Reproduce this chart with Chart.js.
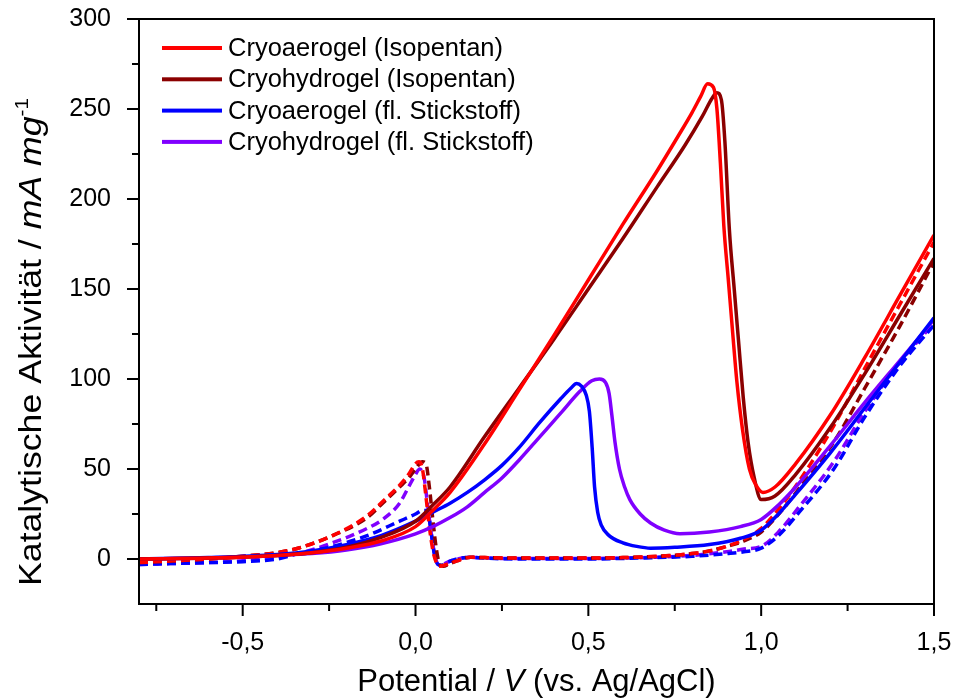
<!DOCTYPE html>
<html>
<head>
<meta charset="utf-8">
<script src="https://cdn.jsdelivr.net/npm/chart.js@4.4.1/dist/chart.umd.min.js"></script>
<style>
  html, body { margin: 0; padding: 0; background: #fff; }
  #wrap { width: 955px; height: 699px; }
</style>
</head>
<body>
<div id="wrap"><canvas id="cv" width="955" height="699"></canvas></div>
<script>
// ---- data ----
const SERIES_LABELS = ['Cryoaerogel (Isopentan)', 'Cryohydrogel (Isopentan)', 'Cryoaerogel (fl. Stickstoff)', 'Cryohydrogel (fl. Stickstoff)'];

// forward scans (solid)
const aeroIsoFwdX = [-0.8, -0.6, -0.4, -0.3, -0.2, -0.1, 0.0, 0.05, 0.1, 0.2, 0.3, 0.4, 0.5, 0.6, 0.7, 0.76, 0.8, 0.825, 0.845, 0.862, 0.872, 0.882, 0.892, 0.905, 0.917, 0.93, 0.946, 0.966, 0.985, 1.005, 1.04, 1.1, 1.2, 1.3, 1.4, 1.5];
const aeroIsoFwdY = [0, 0.5, 2, 3.5, 6, 10, 18, 27, 37, 64, 94, 124, 155, 186, 216, 235, 248, 257, 264, 262, 250, 220, 185, 155, 127, 98, 72, 50, 41, 37, 40, 53, 80, 112, 146, 180];

const hydroIsoFwdX = [-0.8, -0.6, -0.4, -0.3, -0.2, -0.1, 0.0, 0.05, 0.1, 0.2, 0.3, 0.4, 0.5, 0.6, 0.7, 0.78, 0.83, 0.858, 0.872, 0.885, 0.895, 0.908, 0.922, 0.935, 0.948, 0.962, 0.98, 1.0, 1.04, 1.1, 1.2, 1.3, 1.4, 1.5];
const hydroIsoFwdY = [0, 0.5, 2, 3.5, 6.5, 12, 21, 30, 40, 68, 95, 122, 150, 178, 207, 230, 246, 256, 259, 255, 232, 183, 150, 120, 90, 65, 45, 33, 35, 47, 73, 103, 135, 167];

const aeroN2FwdX = [-0.8, -0.6, -0.4, -0.3, -0.2, -0.1, 0.0, 0.05, 0.1, 0.15, 0.2, 0.25, 0.3, 0.36, 0.42, 0.45, 0.466, 0.48, 0.494, 0.503, 0.511, 0.518, 0.527, 0.537, 0.56, 0.6, 0.64, 0.68, 0.75, 0.85, 0.94, 1.0, 1.05, 1.1, 1.2, 1.3, 1.4, 1.5];
const aeroN2FwdY = [0, 0.8, 2.5, 4.5, 8, 13, 21, 26, 31, 37, 44, 52, 62, 76, 89, 95, 97.5, 96, 91, 82, 62, 40, 26, 19, 13, 9, 7, 6, 6.5, 8, 11.5, 16, 25, 36, 59, 84, 109, 134];

const hydroN2FwdX = [-0.8, -0.6, -0.4, -0.3, -0.2, -0.1, 0.0, 0.05, 0.1, 0.15, 0.2, 0.25, 0.3, 0.36, 0.42, 0.475, 0.51, 0.532, 0.55, 0.56, 0.568, 0.577, 0.59, 0.605, 0.62, 0.65, 0.68, 0.72, 0.765, 0.85, 0.94, 1.0, 1.05, 1.1, 1.2, 1.3, 1.4, 1.5];
const hydroN2FwdY = [0, 0.5, 2, 3, 5, 8.5, 14, 18, 23, 29, 37, 45, 55, 68, 81, 93, 99, 100, 98, 92, 80, 65, 50, 40, 33, 25, 20, 16, 14, 15, 18, 22, 30, 40, 63, 87, 110, 133];

// backward scans (dashed)
const aeroIsoRevX = [-0.8, -0.7, -0.6, -0.5, -0.4, -0.34, -0.24, -0.14, -0.095, -0.046, -0.02, 0.0, 0.01, 0.02, 0.03, 0.04, 0.05, 0.06, 0.07, 0.09, 0.12, 0.16, 0.2, 0.3, 0.4, 0.5, 0.6, 0.7, 0.8, 0.85, 0.9, 0.95, 1.0, 1.06, 1.14, 1.21, 1.3, 1.4, 1.5];
const aeroIsoRevY = [-2, -1, 0, 1.5, 3.5, 6, 13, 24, 32, 41, 47, 53, 54, 50, 35, 18, 5, -2, -4, -3, -1, 1, 0.8, 0.5, 0.5, 0.5, 0.8, 1.5, 3, 4.5, 7, 11, 17, 30, 52, 74, 106, 141, 176];

const hydroIsoRevX = [-0.8, -0.7, -0.6, -0.5, -0.4, -0.34, -0.24, -0.14, -0.095, -0.046, -0.02, 0.0, 0.02, 0.03, 0.04, 0.05, 0.06, 0.07, 0.08, 0.1, 0.12, 0.16, 0.2, 0.3, 0.4, 0.5, 0.6, 0.7, 0.8, 0.85, 0.9, 0.95, 1.0, 1.06, 1.14, 1.21, 1.3, 1.4, 1.5];
const hydroIsoRevY = [-2, -1, 0, 1.5, 3.5, 6, 13, 23, 31, 40, 45, 50, 54, 53, 40, 22, 6, -3, -4, -2.5, -1, 1, 0.8, 0.5, 0.5, 0.5, 0.8, 1.5, 3, 4.5, 7, 10, 15, 27, 47, 65, 95, 129, 165];

const aeroN2RevX = [-0.8, -0.7, -0.6, -0.5, -0.4, -0.34, -0.24, -0.14, -0.046, 0.0, 0.02, 0.035, 0.045, 0.055, 0.065, 0.075, 0.09, 0.12, 0.16, 0.2, 0.3, 0.4, 0.5, 0.6, 0.7, 0.8, 0.9, 0.95, 1.0, 1.05, 1.11, 1.21, 1.3, 1.4, 1.5];
const aeroN2RevY = [-3, -2.5, -2, -1.5, 0, 3, 7, 13, 21, 25, 27, 27, 15, 2, -3, -3.5, -2, 0, 1, 0.5, 0, 0, 0, 0.3, 0.8, 1.5, 3, 4, 6, 13, 26, 50, 79, 107, 130];

const hydroN2RevX = [-0.8, -0.7, -0.6, -0.5, -0.4, -0.34, -0.24, -0.14, -0.095, -0.046, -0.02, 0.0, 0.012, 0.025, 0.035, 0.045, 0.055, 0.065, 0.075, 0.09, 0.12, 0.16, 0.2, 0.3, 0.4, 0.5, 0.6, 0.7, 0.8, 0.9, 0.95, 1.0, 1.05, 1.11, 1.21, 1.3, 1.4, 1.5];
const hydroN2RevY = [-3, -2.5, -2, -1, 1, 3, 9, 17, 22, 31, 40, 47, 50, 45, 30, 15, 3, -3, -3.5, -2, 0, 1, 0.5, 0.3, 0.3, 0.3, 0.5, 1, 2, 4, 5.5, 7, 15, 29, 54, 82, 109, 131];

// axis ticks
const X_MAJOR = [-0.5, 0.0, 0.5, 1.0, 1.5];
const X_MINOR = [-0.75, -0.25, 0.25, 0.75, 1.25];
const Y_MAJOR = [0, 50, 100, 150, 200, 250, 300];
const Y_MINOR = [25, 75, 125, 175, 225, 275];

// ---- styling ----
const COLORS = ['#ff0000', '#8b0000', '#0000ff', '#8000ff'];
const FONT = "'Liberation Sans', Arial, sans-serif";

function pts(xs, ys) {
    return xs.map((x, i) => ({ x: x, y: ys[i] }));
}

function line(label, xs, ys, color, dashed) {
    return {
        label: label,
        data: pts(xs, ys),
        borderColor: color,
        backgroundColor: color,
        borderWidth: 3.5,
        borderDash: dashed ? [9, 5] : [],
        showLine: true,
        pointRadius: 0,
        cubicInterpolationMode: 'monotone',
        fill: false,
        isReverse: dashed
    };
}

const datasets = [
    line(SERIES_LABELS[0], aeroIsoFwdX, aeroIsoFwdY, COLORS[0], false),
    line(SERIES_LABELS[1], hydroIsoFwdX, hydroIsoFwdY, COLORS[1], false),
    line(SERIES_LABELS[2], aeroN2FwdX, aeroN2FwdY, COLORS[2], false),
    line(SERIES_LABELS[3], hydroN2FwdX, hydroN2FwdY, COLORS[3], false),
    line(SERIES_LABELS[0], aeroIsoRevX, aeroIsoRevY, COLORS[0], true),
    line(SERIES_LABELS[1], hydroIsoRevX, hydroIsoRevY, COLORS[1], true),
    line(SERIES_LABELS[2], aeroN2RevX, aeroN2RevY, COLORS[2], true),
    line(SERIES_LABELS[3], hydroN2RevX, hydroN2RevY, COLORS[3], true)
];

// draw mixed normal / italic / superscript text centred on cx
function drawRich(ctx, parts, cx, baseY) {
    let total = 0;
    parts.forEach(p => {
        ctx.font = p.font;
        p.w = ctx.measureText(p.t).width;
        total += p.w;
    });
    let x = cx - total / 2;
    ctx.textAlign = 'left';
    ctx.textBaseline = 'alphabetic';
    parts.forEach(p => {
        ctx.font = p.font;
        ctx.fillText(p.t, x, baseY - (p.rise || 0));
        x += p.w;
    });
}

// frame, minor/major ticks, axis titles and legend
const decorPlugin = {
    id: 'decor',
    afterDraw(chart) {
        const ctx = chart.ctx;
        const a = chart.chartArea;
        const xs = chart.scales.x, ys = chart.scales.y;
        ctx.save();
        ctx.strokeStyle = '#000';
        ctx.fillStyle = '#000';
        ctx.lineWidth = 2;
        ctx.strokeRect(a.left, a.top, a.right - a.left, a.bottom - a.top);

        ctx.beginPath();
        X_MAJOR.forEach(v => { const p = xs.getPixelForValue(v); ctx.moveTo(p, a.bottom); ctx.lineTo(p, a.bottom + 12); });
        X_MINOR.forEach(v => { const p = xs.getPixelForValue(v); ctx.moveTo(p, a.bottom); ctx.lineTo(p, a.bottom + 7); });
        Y_MAJOR.forEach(v => { const p = ys.getPixelForValue(v); ctx.moveTo(a.left, p); ctx.lineTo(a.left - 12, p); });
        Y_MINOR.forEach(v => { const p = ys.getPixelForValue(v); ctx.moveTo(a.left, p); ctx.lineTo(a.left - 7, p); });
        ctx.stroke();

        // x title
        const n = '31px ' + FONT, it = 'italic 31px ' + FONT;
        drawRich(ctx, [
            { t: 'Potential / ', font: n },
            { t: 'V', font: it },
            { t: ' (vs. Ag/AgCl)', font: n }
        ], (a.left + a.right) / 2, 691);

        // y title (a little stretched along its length, as in the source)
        ctx.save();
        ctx.translate(41, 342);
        ctx.rotate(-Math.PI / 2);
        ctx.scale(1.15, 1);
        drawRich(ctx, [
            { t: 'Katalytische Aktivität / ', font: n },
            { t: 'mA mg', font: it },
            { t: '-1', font: '18px ' + FONT, rise: 13 }
        ], 0, 0);
        ctx.restore();

        // legend (solid forward scans only)
        ctx.font = '25.5px ' + FONT;
        ctx.textBaseline = 'middle';
        ctx.textAlign = 'left';
        chart.data.datasets.filter(d => !d.isReverse).forEach((d, i) => {
            const y = 48 + i * 31.3;
            ctx.fillStyle = d.borderColor;
            ctx.fillRect(162, y - 2, 60, 4);
            ctx.fillStyle = '#000';
            ctx.fillText(d.label, 228, y + 1);
        });
        ctx.restore();
    }
};

new Chart(document.getElementById('cv'), {
    type: 'scatter',
    data: { datasets: datasets },
    options: {
        responsive: false,
        animation: false,
        layout: { padding: { top: 19, right: 21, left: 0, bottom: 0 } },
        plugins: {
            legend: { display: false },
            tooltip: { enabled: false }
        },
        scales: {
            x: {
                type: 'linear',
                min: -0.8,
                max: 1.5,
                grid: { display: false },
                border: { display: false },
                afterBuildTicks: s => { s.ticks = X_MAJOR.map(v => ({ value: v })); },
                afterFit: s => { s.height = 95; s.paddingLeft = 0; s.paddingRight = 0; },
                ticks: {
                    padding: 16,
                    color: '#000',
                    maxRotation: 0,
                    autoSkip: false,
                    font: { family: FONT, size: 25 },
                    callback: v => v.toFixed(1).replace('.', ',')
                }
            },
            y: {
                type: 'linear',
                min: -25,
                max: 300,
                grid: { display: false },
                border: { display: false },
                afterBuildTicks: s => { s.ticks = Y_MAJOR.map(v => ({ value: v })); },
                afterFit: s => { s.width = 139; s.paddingTop = 0; s.paddingBottom = 0; },
                ticks: {
                    padding: 20,
                    color: '#000',
                    font: { family: FONT, size: 25 },
                    callback: v => String(v)
                }
            }
        }
    },
    plugins: [decorPlugin]
});
</script>
</body>
</html>
